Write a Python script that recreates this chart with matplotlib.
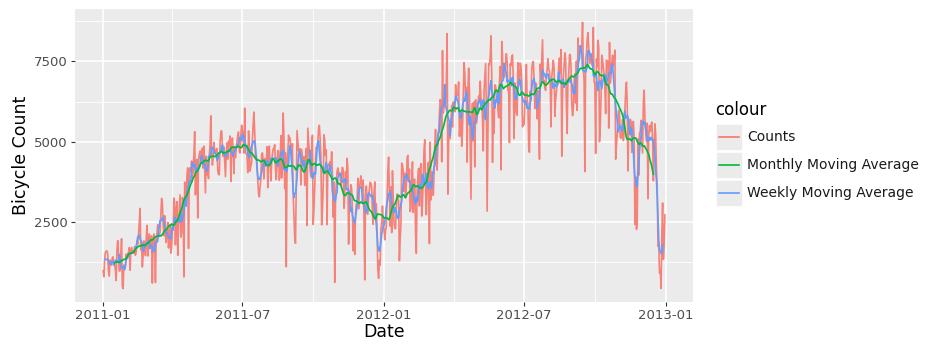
import numpy as np
import pandas as pd
import matplotlib
matplotlib.use("Agg")
import matplotlib.pyplot as plt
import matplotlib.dates as mdates
from matplotlib.patches import Rectangle
from matplotlib.lines import Line2D

# daily bicycle counts (cleaned), one list per year, starting 2011-01-01
start_date = "2011-01-01"
counts_2011 = [
    985, 801, 1349, 1562, 1600, 1606, 1510, 959, 822, 1321, 1263, 1162, 1406, 1421, 1248, 1204,
    1000, 683, 1650, 1927, 1543, 981, 986, 1416, 1985, 506, 431, 1167, 1098, 1096, 1501,
    1360, 1526, 1550, 1708, 1005, 1623, 1712, 1530, 1605, 1538, 1746, 1472, 1589, 1913, 1815,
    2115, 2475, 2927, 1635, 1812, 1107, 1450, 1917, 1807, 1461, 1969, 2402, 1446,
    1851, 2134, 1685, 1944, 2077, 605, 1872, 2133, 1891, 623, 1977, 2132, 2417, 2046, 2056, 2192,
    2744, 3239, 3117, 2471, 2077, 2703, 2121, 1865, 2210, 2496, 1693, 2028, 2425, 1536, 1685,
    2227, 2252, 3249, 3115, 1795, 2808, 3141, 1471, 2455, 2895, 3348, 2034, 2162, 3267, 3126,
    795, 3744, 3429, 3204, 3944, 4189, 1683, 4036, 4191, 4073, 4400, 3872, 4058, 4595, 5312,
    3351, 4401, 4451, 2633, 4433, 4608, 4714, 4333, 4362, 4803, 4182, 4864, 4105, 3409, 4553,
    3958, 4123, 3855, 4575, 4917, 5805, 4660, 4274, 4492, 4978, 4677, 4679, 4758, 4788, 4098, 3982,
    3974, 4968, 5312, 5342, 4906, 4548, 4833, 4401, 3915, 4586, 4966, 4460, 5020, 4891, 5180,
    3767, 4844, 5119, 4744, 4010, 4835, 4507, 4790, 4991, 5202, 5305, 4708, 4648, 5225, 5515,
    5362, 5119, 4649, 6043, 4665, 4629, 4592, 4040, 5336, 4881, 4086, 4258, 4342, 5084, 5538,
    5923, 5302, 4458, 4541, 4332, 3784, 3387, 3285, 3606, 3840, 4590, 4656, 4390, 3846, 4475, 4302,
    4266, 4845, 3574, 4576, 4866, 4294, 3785, 4326, 4602, 4780, 4792, 4905, 4150, 3820, 4338,
    4725, 4694, 3805, 4153, 5191, 3873, 4758, 5895, 5130, 3542, 4661, 1115, 4334, 4634, 5204, 5058,
    5115, 4727, 4484, 4940, 3351, 2710, 1996, 1842, 3544, 5345, 5046, 4713, 4763, 4785, 3659,
    4760, 4511, 4274, 4539, 3641, 4352, 4795, 2395, 5423, 5010, 4630, 4120, 3907, 4839, 5202,
    2429, 2918, 3570, 4456, 4826, 4765, 4985, 5409, 5511, 5117, 4563, 2416, 2913, 3644, 5217,
    5041, 4570, 4748, 2424, 4195, 4304, 4308, 4381, 4187, 4687, 3894, 2659, 3747, 627, 3331, 3669,
    4068, 4186, 3974, 4046, 3926, 3649, 4035, 4205, 4109, 2933, 3368, 4067, 3717, 4486, 4195,
    1817, 3053, 3392, 3663, 3520, 2765, 1607, 2566, 1495, 2792, 3068, 3071, 3867, 2914, 3613,
    3727, 3940, 3614, 3485, 3811, 2594, 705, 3322, 3620, 3190, 2743, 3310, 3523, 3740, 3709,
    3577, 2739, 2431, 3403, 3750, 2660, 3068, 2209, 1011, 754, 1317, 1162, 2302, 2423, 2999, 2485,
]
counts_2012 = [
    2294, 1951, 2236, 2368, 3272, 4098, 4521, 3425, 2376, 3598, 2177, 4097, 3214, 2493, 2311,
    2298, 2935, 3376, 3292, 3163, 1301, 1977, 2432, 4339, 4270, 4075, 3456, 4023, 3243, 3624, 4509,
    4579, 3761, 4151, 2832, 2947, 3784, 4375, 2802, 3830, 3831, 2169, 1529, 3422, 3922, 4169,
    3005, 4154, 4318, 2689, 3129, 3777, 4773, 5062, 3487, 2732, 3389, 4322, 4363, 1834,
    4990, 3194, 4066, 3423, 3333, 3956, 4916, 5382, 4569, 4118, 4911, 5298, 5847, 6312, 6192,
    4378, 7836, 5892, 6153, 6093, 6230, 6871, 8362, 3372, 4996, 5558, 5102, 5698, 6133, 5459, 6235,
    6041, 5936, 6772, 6436, 6457, 6460, 6857, 5169, 5585, 5918, 4862, 5409, 6398, 7460, 7132,
    6370, 6691, 4367, 6565, 7290, 6624, 5000, 3214, 5633, 6196, 5026, 6233, 4220, 6304, 5572,
    5740, 6169, 6421, 6296, 6883, 6359, 6273, 5728, 4717, 6572, 7030, 7429, 6118, 2843, 5115,
    7424, 7384, 7639, 8294, 7129, 4359, 6073, 5260, 6770, 6734, 6536, 6591, 6043, 5743, 6855, 7338,
    4127, 8120, 7641, 6998, 7001, 7055, 7494, 7736, 7498, 6598, 6664, 4972, 7421, 7363, 7665,
    7702, 6978, 5099, 6825, 6211, 5905, 5823, 7458, 6891, 6779, 7442, 7335, 6879, 5463, 5687,
    5531, 6227, 6660, 7403, 6241, 6207, 4840, 4672, 6569, 6290, 7264, 7446, 7499, 6969, 6031,
    6830, 6786, 5713, 6591, 5870, 4459, 7410, 6966, 7592, 8173, 6861, 6904, 6685, 6597, 7105, 7216,
    7580, 7261, 7175, 6824, 5464, 7013, 7273, 7534, 7286, 5786, 6299, 6544, 6883, 6784, 7347,
    7605, 7148, 7865, 4549, 6530, 7006, 7375, 7765, 7582, 6053, 5255, 6917, 7040, 7697, 7713, 7350,
    6140, 5810, 6034, 6864, 7112, 6203, 7504, 5976, 8227, 7525, 7767, 7870, 7804, 8009, 8714,
    7333, 6869, 4073, 7591, 7720, 8167, 8395, 7907, 7436, 7538, 7733, 7393, 7415, 8555, 6889,
    6778, 4639, 7572, 7328, 8156, 7965, 5000, 5478, 6392, 7691, 7570, 7282, 7109, 6639, 5875,
    7534, 7461, 7509, 5424, 8090, 6824, 7058, 7466, 7693, 7359, 7444, 7852, 4459, 4900, 5200, 5566,
    5986, 5847, 5138, 5107, 5259, 5686, 5035, 5315, 5992, 6536, 6852, 6269, 4094, 5495, 5445,
    5698, 5629, 4669, 5499, 5634, 5146, 2425, 3910, 2277, 2424, 5087, 3959, 5260, 5323, 5668,
    5191, 4649, 6234, 6606, 5729, 5375, 5008, 5582, 3228, 5170, 5501, 5319, 5532, 5611, 5047,
    3786, 4585, 5557, 5267, 4128, 3623, 1749, 1787, 920, 1013, 441, 2114, 3095, 1341, 1796, 2729,
]

series_names = ["Counts", "Monthly Moving Average", "Weekly Moving Average"]
series_colors = ["#F8766D", "#00BA38", "#619CFF"]
y_ticks = [2500, 5000, 7500]
y_minor = [1250, 3750, 6250, 8750]
x_ticks = ["2011-01-01", "2011-07-01", "2012-01-01", "2012-07-01", "2013-01-01"]
x_minor = ["2011-04-01", "2011-10-01", "2012-04-01", "2012-10-01"]
x_tick_labels = ["2011-01", "2011-07", "2012-01", "2012-07", "2013-01"]

values = np.array(counts_2011 + counts_2012, dtype=float)
dates = pd.date_range(start_date, periods=len(values), freq="D")
counts = pd.Series(values, index=dates)

# centred moving averages (order 7, and order 30 as a 2x30 centred average)
weekly = counts.rolling(7, center=True).mean()
w30 = np.r_[0.5, np.ones(29), 0.5] / 30
monthly = counts.rolling(31, center=True).apply(lambda w: np.dot(w, w30), raw=True)

grey_text = "#4D4D4D"
fig = plt.figure(figsize=(9.36, 3.52), dpi=100)
ax = fig.add_axes([75 / 936, 1 - 302 / 352, (693 - 75) / 936, (302 - 9) / 352])
ax.set_facecolor("#EBEBEB")
for s in ax.spines.values():
    s.set_visible(False)

ax.plot(counts.index, counts.values, color=series_colors[0], lw=1.2, alpha=0.9)
ax.plot(weekly.index, weekly.values, color=series_colors[2], lw=1.2)
ax.plot(monthly.index, monthly.values, color=series_colors[1], lw=1.2)

lo, hi = values.min(), values.max()
pad = 0.05 * (hi - lo)
ax.set_ylim(lo - pad, hi + pad)
x0, x1 = mdates.date2num(dates[0]), mdates.date2num(dates[-1])
xpad = 0.05 * (x1 - x0)
ax.set_xlim(x0 - xpad, x1 + xpad)

ax.set_yticks(y_ticks)
ax.set_yticks(y_minor, minor=True)
ax.set_xticks(mdates.date2num(pd.to_datetime(x_ticks)))
ax.set_xticklabels(x_tick_labels)
ax.set_xticks(mdates.date2num(pd.to_datetime(x_minor)), minor=True)
ax.grid(True, which="major", color="white", lw=1.2)
ax.grid(True, which="minor", color="white", lw=0.6)
ax.set_axisbelow(True)
ax.tick_params(which="major", length=3, width=0.8, color="#333333",
               labelsize=9.5, labelcolor=grey_text, pad=2)
ax.tick_params(which="minor", length=0)

ax.set_xlabel("Date", fontsize=12.5, color="black", labelpad=1)
ax.set_ylabel("Bicycle Count", fontsize=12.5, color="black", labelpad=3)

# legend drawn ggplot-style with grey key boxes
fig.text(715 / 936, 1 - 110 / 352, "colour", fontsize=12, va="center", ha="left")
for i, (name, col) in enumerate(zip(series_names, series_colors)):
    yc = 137 + i * 28
    fig.add_artist(Rectangle((716 / 936, 1 - (yc + 13) / 352), 26 / 936, 26 / 352,
                             transform=fig.transFigure, facecolor="#EBEBEB",
                             edgecolor="white", lw=0.5))
    fig.add_artist(Line2D([719 / 936, 739 / 936], [1 - yc / 352] * 2,
                          transform=fig.transFigure, color=col, lw=1.2))
    fig.text(747 / 936, 1 - yc / 352, name, fontsize=10, va="center",
             ha="left", color="#1A1A1A")

fig.savefig("out.png", dpi=100)
